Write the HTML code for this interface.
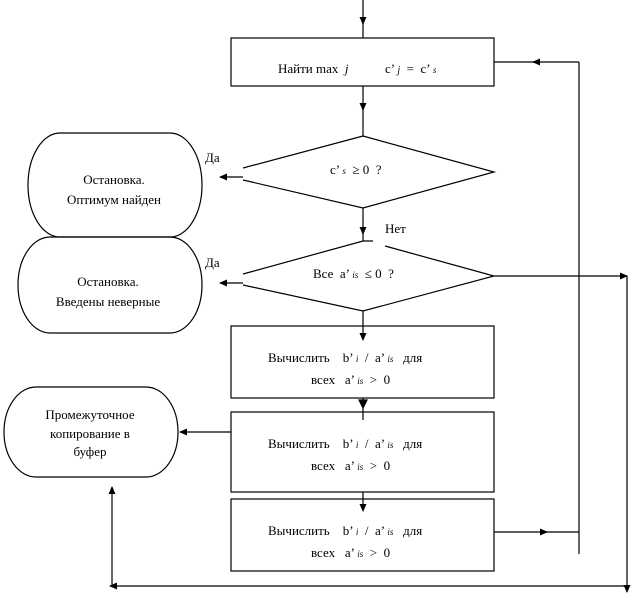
<!DOCTYPE html>
<html><head><meta charset="utf-8"><style>
html,body{margin:0;padding:0;background:#fff;}
svg{display:block;}
text{font-family:"Liberation Serif",serif;font-size:13px;fill:#000;white-space:pre;}
</style></head><body>
<svg width="633" height="597" viewBox="0 0 633 597" xmlns="http://www.w3.org/2000/svg">
<defs>
<marker id="a" markerWidth="8" markerHeight="8" refX="7" refY="4" orient="auto" markerUnits="userSpaceOnUse">
<path d="M0,0.5 L8,4 L0,7.5 Z" fill="#000"/></marker>
</defs>
<g stroke="#000" stroke-width="1.2" fill="none">
<line x1="363" y1="0" x2="363" y2="24" marker-end="url(#a)"/>
<line x1="363" y1="20" x2="363" y2="38"/>
<rect x="231" y="38" width="263" height="48"/>
<line x1="363" y1="86" x2="363" y2="110" marker-end="url(#a)"/>
<line x1="363" y1="106" x2="363" y2="136"/>
<path d="M363,136 L494,172 L363,208 L243,180 M243,168 L363,136"/>
<line x1="363" y1="208" x2="363" y2="234" marker-end="url(#a)"/>
<line x1="363" y1="230" x2="363" y2="241"/>
<path d="M373,241 L363,241 L243,274 M243,285 L363,311 L494,276 L385,246"/>
<line x1="363" y1="311" x2="363" y2="340" marker-end="url(#a)"/>
<rect x="231" y="326" width="263" height="72"/>
<line x1="363" y1="398" x2="363" y2="420"/>
<path d="M359,400 L367,400 L363,408 Z" fill="#000"/>
<rect x="231" y="412" width="263" height="80"/>
<line x1="363" y1="492" x2="363" y2="511" marker-end="url(#a)"/>
<rect x="231" y="499" width="263" height="72"/>
<line x1="243" y1="177" x2="220" y2="177" marker-end="url(#a)"/>
<line x1="243" y1="283" x2="220" y2="283" marker-end="url(#a)"/>
<line x1="231" y1="432" x2="180" y2="432" marker-end="url(#a)"/>
<path d="M60,133 L170,133 A32,52 0 0 1 170,237 L60,237 A32,52 0 0 1 60,133 Z"/>
<path d="M50,237 L170,237 A32,48 0 0 1 170,333 L50,333 A32,48 0 0 1 50,237 Z"/>
<path d="M36,387 L146,387 A32,45 0 0 1 146,477 L36,477 A32,45 0 0 1 36,387 Z"/>
<line x1="579" y1="554" x2="579" y2="62"/>
<line x1="579" y1="62" x2="533" y2="62" marker-end="url(#a)"/>
<line x1="535" y1="62" x2="494" y2="62"/>
<line x1="494" y1="532" x2="547" y2="532" marker-end="url(#a)"/>
<line x1="545" y1="532" x2="579" y2="532"/>
<line x1="494" y1="276" x2="627" y2="276" marker-end="url(#a)"/>
<line x1="627" y1="276" x2="627" y2="592" marker-end="url(#a)"/>
<line x1="627" y1="586" x2="110" y2="586" marker-end="url(#a)"/>
<line x1="112" y1="586" x2="112" y2="487" marker-end="url(#a)"/>
</g>
<text x="278" y="73">Найти max  <tspan font-style="italic">j</tspan></text>
<text x="385" y="73">c’ <tspan font-style="italic" font-size="10">j</tspan>  =  c’ <tspan font-style="italic" font-size="9">s</tspan></text>
<text x="330" y="174">c’ <tspan font-style="italic" font-size="9">s</tspan>  ≥ 0  ?</text>
<text x="313" y="278">Все  a’ <tspan font-style="italic" font-size="9">is</tspan>  ≤ 0  ?</text>
<text x="385" y="233">Нет</text>
<text x="205" y="162">Да</text>
<text x="205" y="267">Да</text>
<text x="114" y="184" text-anchor="middle">Остановка.</text>
<text x="114" y="204" text-anchor="middle">Оптимум найден</text>
<text x="108" y="286" text-anchor="middle">Остановка.</text>
<text x="108" y="306" text-anchor="middle">Введены неверные</text>
<text x="90" y="419" text-anchor="middle">Промежуточное</text>
<text x="90" y="438" text-anchor="middle">копирование в</text>
<text x="90" y="456" text-anchor="middle">буфер</text>
<text x="268" y="362">Вычислить    b’ <tspan font-style="italic" font-size="9">i</tspan>  /  a’ <tspan font-style="italic" font-size="9">is</tspan>   для</text>
<text x="311" y="384">всех   a’ <tspan font-style="italic" font-size="9">is</tspan>  &gt;  0</text>
<text x="268" y="448">Вычислить    b’ <tspan font-style="italic" font-size="9">i</tspan>  /  a’ <tspan font-style="italic" font-size="9">is</tspan>   для</text>
<text x="311" y="470">всех   a’ <tspan font-style="italic" font-size="9">is</tspan>  &gt;  0</text>
<text x="268" y="535">Вычислить    b’ <tspan font-style="italic" font-size="9">i</tspan>  /  a’ <tspan font-style="italic" font-size="9">is</tspan>   для</text>
<text x="311" y="557">всех   a’ <tspan font-style="italic" font-size="9">is</tspan>  &gt;  0</text>
</svg>
</body></html>
